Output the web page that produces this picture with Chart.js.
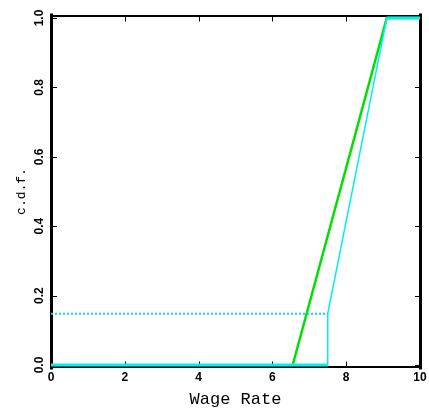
<!DOCTYPE html>
<html>
<head>
<meta charset="utf-8">
<script src="https://cdn.jsdelivr.net/npm/chart.js@4/dist/chart.umd.min.js"></script>
<style>
  html, body { margin: 0; padding: 0; background: #fff; }
  #wrap { width: 429px; height: 415px; }
</style>
</head>
<body>
<div id="wrap"><canvas id="c" width="429" height="415"></canvas></div>
<script>
// Two wage-rate distribution functions
const greenX = [6.55, 9.1, 10];
const greenY = [0, 1, 1];
const cyanX = [0, 7.5, 7.5, 9.1, 10];
const cyanY = [0, 0, 0.148, 1, 1];
const massX = [0, 7.5];
const massY = [0.148, 0.148];

const xTicks = [0, 2, 4, 6, 8, 10];
const yTicks = [0, 0.2, 0.4, 0.6, 0.8, 1.0];

const pts = (xs, ys) => xs.map((x, i) => ({ x: x, y: ys[i] }));

const TICK_FONT = 'bold 12px "Liberation Sans"';

// Frame with inward tick marks, drawn under the curves
const framePlugin = {
  id: 'frame',
  beforeDatasetsDraw(chart) {
    const { ctx, chartArea: a, scales } = chart;
    const L = a.left + 0.5, R = a.right + 0.5, T = a.top - 2, B = a.bottom + 2;
    ctx.save();
    ctx.strokeStyle = '#000';
    ctx.lineCap = 'square';
    ctx.lineWidth = 1;
    ctx.beginPath();
    xTicks.forEach(v => {
      const px = Math.round(scales.x.getPixelForValue(v)) + 0.5;
      ctx.moveTo(px, B); ctx.lineTo(px, B - 5);
      ctx.moveTo(px, T); ctx.lineTo(px, T + 5);
    });
    yTicks.forEach(v => {
      const py = Math.round(scales.y.getPixelForValue(v)) + 0.5;
      ctx.moveTo(L, py); ctx.lineTo(L + 5, py);
      ctx.moveTo(R, py); ctx.lineTo(R - 5, py);
    });
    ctx.stroke();
    ctx.lineWidth = 2;
    ctx.beginPath();
    ctx.moveTo(L, T); ctx.lineTo(R, T);
    ctx.moveTo(L, B); ctx.lineTo(R, B);
    ctx.stroke();
    ctx.lineWidth = 3;
    ctx.beginPath();
    ctx.moveTo(L, T - 1); ctx.lineTo(L, B + 1);
    ctx.moveTo(R, T - 1); ctx.lineTo(R, B + 1);
    ctx.stroke();

    // tick labels: x below the frame, y rotated to read upward
    ctx.fillStyle = '#000';
    ctx.font = TICK_FONT;
    ctx.textAlign = 'center';
    ctx.textBaseline = 'middle';
    xTicks.forEach(v => {
      ctx.fillText(String(v), scales.x.getPixelForValue(v), B + 11);
    });
    yTicks.forEach(v => {
      ctx.save();
      ctx.translate(L - 12, scales.y.getPixelForValue(v));
      ctx.rotate(-Math.PI / 2);
      ctx.fillText(v.toFixed(1), 0, 0);
      ctx.restore();
    });
    ctx.restore();
  }
};

new Chart(document.getElementById('c'), {
  type: 'scatter',
  data: {
    datasets: [
      {
        data: pts(massX, massY),
        showLine: true,
        borderColor: '#00dddd',
        borderWidth: 2,
        borderDash: [2, 2],
        pointRadius: 0,
        clip: false
      },
      {
        data: pts(cyanX, cyanY),
        showLine: true,
        borderColor: '#00f0f0',
        borderWidth: 1.5,
        segment: {
          borderWidth: c => (c.p0DataIndex === 0 || c.p0DataIndex === 3) ? 3 : 1.5
        },
        pointRadius: 0,
        clip: false
      },
      {
        data: pts(greenX, greenY),
        showLine: true,
        borderColor: '#00e000',
        borderWidth: 2.5,
        pointRadius: 0,
        clip: false
      }
    ]
  },
  options: {
    responsive: false,
    animation: false,
    events: [],
    layout: { padding: { left: 0, top: 18, right: 9, bottom: 0 } },
    plugins: { legend: { display: false }, tooltip: { enabled: false } },
    scales: {
      x: {
        type: 'linear',
        min: 0, max: 10,
        afterFit: s => { s.height = 50; s.paddingLeft = 0; s.paddingRight = 0; },
        grid: { display: false, drawTicks: false },
        border: { display: false },
        ticks: { display: false },
        title: {
          display: true,
          text: 'Wage Rate',
          color: '#000',
          font: { family: 'Liberation Mono', size: 17 },
          padding: { top: 0, bottom: 5 }
        }
      },
      y: {
        type: 'linear',
        min: 0, max: 1,
        afterFit: s => { s.width = 51; s.paddingTop = 0; s.paddingBottom = 0; },
        grid: { display: false, drawTicks: false },
        border: { display: false },
        ticks: { display: false },
        title: {
          display: true,
          text: 'c.d.f.',
          color: '#000',
          font: { family: 'Liberation Mono', size: 13 },
          padding: { top: 14, bottom: 0 }
        }
      }
    }
  },
  plugins: [framePlugin]
});
</script>
</body>
</html>
